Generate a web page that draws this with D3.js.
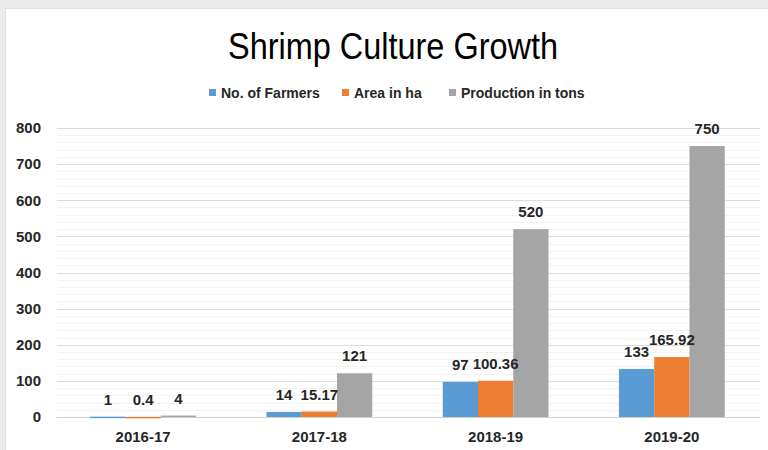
<!DOCTYPE html>
<html>
<head>
<meta charset="utf-8">
<script src="https://cdn.jsdelivr.net/npm/d3@7"></script>
<style>
  body { margin: 0; background: #ebebeb; }
  svg { display: block; }
</style>
</head>
<body>
<svg id="chart" width="768" height="450"></svg>
<script>
const categories = ['2016-17', '2017-18', '2018-19', '2019-20'];
const seriesNames = ['No. of Farmers', 'Area in ha', 'Production in tons'];
const farmers = [1, 14, 97, 133];
const area = [0.4, 15.17, 100.36, 165.92];
const production = [4, 121, 520, 750];
const yTicks = [0, 100, 200, 300, 400, 500, 600, 700, 800];

const palette = ['#5b9bd5', '#ed7d31', '#a5a5a5'];
const series = [farmers, area, production];
const font = '"Liberation Sans Narrow", "Liberation Sans", Arial, sans-serif';

const svg = d3.select('#chart');

// white chart area on the grey page
svg.append('rect')
  .attr('x', 5.5).attr('y', 8.5)
  .attr('width', 770).attr('height', 450)
  .attr('fill', '#fff').attr('stroke', '#e0e0e0');

const x = d3.scaleBand().domain(categories).range([55, 760]);
const xSub = d3.scaleBand().domain(seriesNames)
  .range([x.bandwidth() * 0.2, x.bandwidth() * 0.8]);
const y = d3.scaleLinear().domain([0, 800]).range([417, 128]);

// minor grid every 20
svg.append('g').selectAll('line')
  .data(d3.range(20, 800, 20).filter(v => v % 100 !== 0))
  .join('line')
  .attr('x1', 57).attr('x2', 760)
  .attr('y1', d => Math.round(y(d)) + 0.5).attr('y2', d => Math.round(y(d)) + 0.5)
  .attr('stroke', '#f2f2f2');

// major grid
svg.append('g').selectAll('line')
  .data(yTicks)
  .join('line')
  .attr('x1', 57).attr('x2', 760)
  .attr('y1', d => Math.round(y(d)) + 0.5).attr('y2', d => Math.round(y(d)) + 0.5)
  .attr('stroke', d => d === 0 ? '#d0d0d0' : '#dcdcdc');

// y axis labels
const yAxis = svg.append('g')
  .attr('transform', 'translate(41,0)')
  .call(d3.axisLeft(y).tickValues(yTicks).tickSize(0).tickPadding(0));
yAxis.select('.domain').remove();
yAxis.selectAll('text')
  .attr('font-family', font).attr('font-size', 15).attr('font-weight', 'bold')
  .attr('fill', '#262626');

// x axis labels
const xAxis = svg.append('g')
  .attr('transform', 'translate(0,431)')
  .call(d3.axisBottom(x).tickSize(0).tickPadding(0));
xAxis.select('.domain').remove();
xAxis.selectAll('text')
  .attr('font-family', font).attr('font-size', 15).attr('font-weight', 'bold')
  .attr('fill', '#262626');

// bars
const groups = svg.append('g').selectAll('g')
  .data(categories)
  .join('g')
  .attr('transform', d => `translate(${x(d)},0)`);

groups.selectAll('rect')
  .data((c, i) => series.map((s, k) => ({ name: seriesNames[k], v: s[i], k })))
  .join('rect')
  .attr('x', d => xSub(d.name))
  .attr('width', xSub.bandwidth())
  .attr('y', d => y(d.v))
  .attr('height', d => Math.max(y(0) - y(d.v), 1.5))
  .attr('fill', d => palette[d.k]);

groups.selectAll('text')
  .data((c, i) => series.map((s, k) => ({ name: seriesNames[k], v: s[i], k })))
  .join('text')
  .attr('x', d => xSub(d.name) + xSub.bandwidth() / 2)
  .attr('y', d => y(d.v) - 12)
  .attr('text-anchor', 'middle')
  .attr('font-family', font).attr('font-size', 15).attr('font-weight', 'bold')
  .attr('fill', '#262626')
  .text(d => d.v);

// title
svg.append('text')
  .attr('x', 393).attr('y', 59)
  .attr('text-anchor', 'middle')
  .attr('font-family', font).attr('font-size', 36)
  .attr('textLength', 330).attr('lengthAdjust', 'spacingAndGlyphs')
  .attr('fill', '#000')
  .text('Shrimp Culture Growth');

// legend
const legendX = [209, 342, 449];
const legend = svg.append('g').selectAll('g')
  .data(seriesNames)
  .join('g')
  .attr('transform', (d, i) => `translate(${legendX[i]},0)`);
legend.append('rect')
  .attr('x', 0).attr('y', 89).attr('width', 7).attr('height', 7)
  .attr('fill', (d, i) => palette[i]);
legend.append('text')
  .attr('x', 12).attr('y', 98)
  .attr('font-family', font).attr('font-size', 14).attr('font-weight', 'bold')
  .attr('fill', '#262626')
  .text(d => d);
</script>
</body>
</html>
